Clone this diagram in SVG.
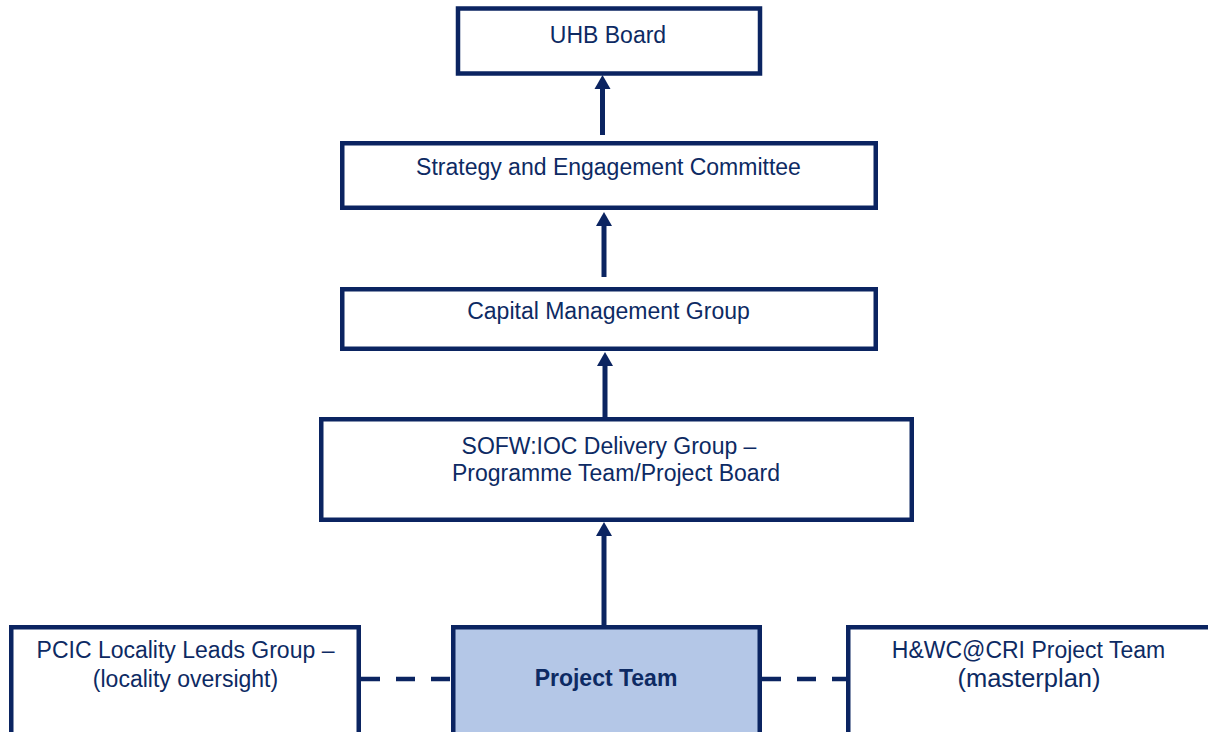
<svg xmlns="http://www.w3.org/2000/svg" width="1208" height="732" viewBox="0 0 1208 732">
  <style>
    .box { fill: #ffffff; stroke: #0b2461; stroke-width: 4.5; }
    .box.hl { fill: #b4c7e7; }
    .lbl { font-family: "Liberation Sans", Arial, sans-serif; font-size: 23px; fill: #0d2a63; text-anchor: middle; }
    .bold { font-weight: bold; }
    .up { stroke: #0b2461; stroke-width: 5; fill: none; marker-end: url(#head); }
    .dash { stroke: #0b2461; stroke-width: 4.5; fill: none; stroke-dasharray: 19 16; }
  </style>
  <defs>
    <!-- arrowhead starts at the end of the shaft and points forward -->
    <marker id="head" markerUnits="userSpaceOnUse" markerWidth="15" markerHeight="18" refX="0" refY="8" orient="auto" overflow="visible">
      <path d="M-1,0 L13,8 L-1,16 Z" fill="#0b2461"/>
    </marker>
  </defs>

  <rect width="1208" height="732" fill="#ffffff"/>

  <!-- reporting lines and dashed liaison links -->
  <g id="connectors">
    <line class="up" x1="602.5" y1="135" x2="602.5" y2="88"/>
    <line class="up" x1="604" y1="277" x2="604" y2="225"/>
    <line class="up" x1="605" y1="417" x2="605" y2="365"/>
    <line class="up" x1="604" y1="625" x2="604" y2="535"/>
    <line class="dash" x1="361" y1="679" x2="451" y2="679"/>
    <line class="dash" x1="762" y1="679" x2="846" y2="679"/>
  </g>

  <g id="uhb-board">
    <rect class="box" x="458" y="8.5" width="302" height="65"/>
    <text class="lbl" x="608" y="43">UHB Board</text>
  </g>

  <g id="strategy-committee">
    <rect class="box" x="342.25" y="143.25" width="533.5" height="64.5"/>
    <text class="lbl" x="608.5" y="175">Strategy and Engagement Committee</text>
  </g>

  <g id="capital-management">
    <rect class="box" x="342.25" y="289.25" width="533.5" height="59.5"/>
    <text class="lbl" x="608.5" y="319">Capital Management Group</text>
  </g>

  <g id="delivery-group">
    <rect class="box" x="321.25" y="419.25" width="590.5" height="100.5"/>
    <text class="lbl" x="609" y="454">SOFW:IOC Delivery Group –</text>
    <text class="lbl" x="616" y="481">Programme Team/Project Board</text>
  </g>

  <g id="locality-leads">
    <rect class="box" x="11.25" y="627.25" width="347.5" height="110"/>
    <text class="lbl" x="185.5" y="658">PCIC Locality Leads Group –</text>
    <text class="lbl" x="185.5" y="687">(locality oversight)</text>
  </g>

  <g id="project-team">
    <rect class="box hl" x="453.25" y="627.25" width="306.5" height="110"/>
    <text class="lbl bold" x="606" y="686">Project Team</text>
  </g>

  <g id="hwc-project-team">
    <rect class="box" x="848.25" y="627.25" width="370" height="110"/>
    <text class="lbl" x="1028.5" y="658">H&amp;WC@CRI Project Team</text>
    <text class="lbl" x="1029" y="687" style="font-size:25.5px">(masterplan)</text>
  </g>
</svg>
